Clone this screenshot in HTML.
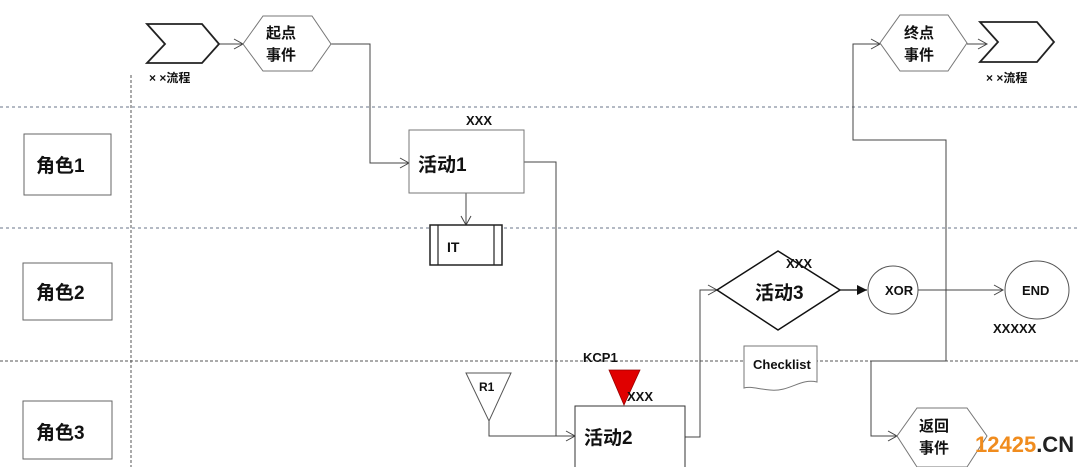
<!DOCTYPE html>
<html><head><meta charset="utf-8"><style>
html,body{margin:0;padding:0;background:#fff;}
svg{display:block;}
text{font-family:"Liberation Sans","Noto Sans CJK SC",sans-serif;font-weight:bold;fill:#111;}
</style></head><body>
<svg width="1080" height="467" viewBox="0 0 1080 467" xmlns="http://www.w3.org/2000/svg">
<defs>
<marker id="oa" markerWidth="12" markerHeight="12" refX="10" refY="6" orient="auto" markerUnits="userSpaceOnUse"><path d="M1,1 L10,6 L1,11" fill="none" stroke="#444" stroke-width="1"/></marker>
<marker id="fa" markerWidth="12" markerHeight="10" refX="10" refY="5" orient="auto" markerUnits="userSpaceOnUse"><path d="M0,0 L10,5 L0,10 Z" fill="#111"/></marker>
</defs>
<g stroke="#8890a0" stroke-width="1.2" stroke-dasharray="3,3">
<line x1="0" y1="107" x2="1080" y2="107"/>
<line x1="0" y1="228" x2="1080" y2="228"/>
</g>
<g stroke="#555" stroke-width="1" stroke-dasharray="3,2">
<line x1="0" y1="361" x2="1080" y2="361"/>
<line x1="131" y1="75" x2="131" y2="467"/>
</g>
<g fill="#fff" stroke="#666" stroke-width="1">
<rect x="24" y="134" width="87" height="61"/>
<rect x="23" y="263" width="89" height="57"/>
<rect x="23" y="401" width="89" height="58"/>
</g>
<text x="36" y="172" font-size="19">角色1</text>
<text x="36" y="299" font-size="19">角色2</text>
<text x="36" y="439" font-size="19">角色3</text>
<g fill="none" stroke="#444" stroke-width="1">
<line x1="219" y1="44" x2="243" y2="44" marker-end="url(#oa)"/>
<polyline points="331,44 370,44 370,163 409,163" marker-end="url(#oa)"/>
<polyline points="524,162 556,162 556,436 575,436" marker-end="url(#oa)"/>
<line x1="466" y1="193" x2="466" y2="225" marker-end="url(#oa)"/>
<polyline points="489,421 489,436 556,436"/>
<polyline points="685,437 700,437 700,290 717,290" marker-end="url(#oa)"/>
<line x1="918" y1="290" x2="1003" y2="290" marker-end="url(#oa)"/>
<polyline points="946,230 946,140 853,140 853,44 880,44" marker-end="url(#oa)"/>
<line x1="946" y1="140" x2="946" y2="361"/>
<polyline points="946,361 871,361 871,436 897,436" marker-end="url(#oa)"/>
<line x1="967" y1="44" x2="987" y2="44" marker-end="url(#oa)"/>
</g>
<line x1="840" y1="290" x2="867" y2="290" stroke="#111" stroke-width="1.2" marker-end="url(#fa)"/>
<polygon points="147,24 202,24 219,44 202,63 147,63 165,44" fill="#fff" stroke="#222" stroke-width="1.8"/>
<polygon points="980,22 1037,22 1054,42 1037,62 980,62 998,42" fill="#fff" stroke="#222" stroke-width="1.8"/>
<text x="149" y="82" font-size="12">× ×流程</text>
<text x="986" y="82" font-size="12">× ×流程</text>
<g fill="#fff" stroke="#777" stroke-width="1">
<polygon points="243,44 263,16 312,16 331,44 312,71 263,71"/>
<polygon points="880,43 900,15 948,15 967,43 948,71 900,71"/>
<polygon points="897,436 917,408 967,408 987,436 967,467 917,467"/>
</g>
<text x="266" y="38" font-size="15">起点</text><text x="266" y="60" font-size="15">事件</text>
<text x="904" y="38" font-size="15">终点</text><text x="904" y="60" font-size="15">事件</text>
<text x="919" y="431" font-size="15">返回</text><text x="919" y="453" font-size="15">事件</text>
<rect x="409" y="130" width="115" height="63" fill="#fff" stroke="#777"/>
<text x="466" y="125" font-size="13">XXX</text>
<text x="418" y="171" font-size="19">活动1</text>
<rect x="430" y="225" width="72" height="40" fill="#fff" stroke="#222" stroke-width="1.5"/>
<line x1="438" y1="225" x2="438" y2="265" stroke="#222" stroke-width="1.2"/>
<line x1="494" y1="225" x2="494" y2="265" stroke="#222" stroke-width="1.2"/>
<text x="447" y="252" font-size="14">IT</text>
<polygon points="466,373 511,373 489,421" fill="#fff" stroke="#555"/>
<text x="479" y="391" font-size="12">R1</text>
<rect x="575" y="406" width="110" height="70" fill="#fff" stroke="#333"/>
<text x="584" y="444" font-size="19">活动2</text>
<text x="583" y="362" font-size="13">KCP1</text>
<polygon points="609,370 640,370 624,405" fill="#e00000" stroke="#900" stroke-width="0.8"/>
<text x="627" y="401" font-size="13">XXX</text>
<polygon points="717,290 778,251 840,290 778,330" fill="#fff" stroke="#111" stroke-width="1.5"/>
<text x="755" y="299" font-size="19">活动3</text>
<text x="786" y="268" font-size="13">XXX</text>
<ellipse cx="893" cy="290" rx="25" ry="24" fill="#fff" stroke="#555"/>
<text x="885" y="295" font-size="13">XOR</text>
<line x1="918" y1="290" x2="1003" y2="290" stroke="#444"/>
<ellipse cx="1037" cy="290" rx="32" ry="29" fill="#fff" stroke="#555"/>
<text x="1022" y="295" font-size="13">END</text>
<text x="993" y="333" font-size="13">XXXXX</text>
<line x1="946" y1="140" x2="946" y2="361" stroke="#444"/>
<path d="M744,346 L817,346 L817,382 C800,378 790,392 770,390 C758,389 750,386 744,388 Z" fill="#fff" stroke="#777"/>
<text x="753" y="369" font-size="13">Checklist</text>
<text x="975" y="452" font-size="22" style="fill:#f08c1e">12425<tspan style="fill:#222">.CN</tspan></text>
</svg>
</body></html>
